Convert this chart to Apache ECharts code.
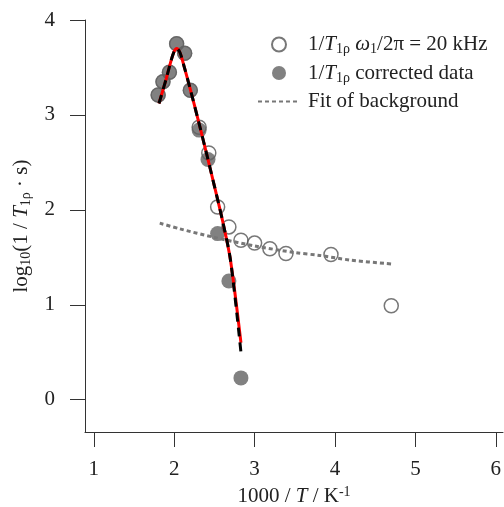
<!DOCTYPE html>
<html><head><meta charset="utf-8">
<script src="https://cdn.jsdelivr.net/npm/echarts@6/dist/echarts.min.js"></script>
<style>html,body{margin:0;padding:0;background:#fff}#c{width:504px;height:507px}</style>
</head><body><div id="c"></div>
<script>
// Open circles: 1/T1rho at omega1/2pi = 20 kHz
const rawX = [1.80, 1.86, 1.94, 2.03, 2.13, 2.20, 2.31, 2.43, 2.54, 2.68, 2.83, 3.00, 3.19, 3.39, 3.95, 4.70];
const rawY = [3.21, 3.35, 3.45, 3.75, 3.65, 3.26, 2.87, 2.60, 2.03, 1.82, 1.68, 1.65, 1.59, 1.54, 1.53, 0.99];
// Filled circles: corrected data
const corrX = [1.80, 1.86, 1.94, 2.03, 2.13, 2.20, 2.31, 2.42, 2.54, 2.68, 2.83];
const corrY = [3.21, 3.35, 3.45, 3.75, 3.65, 3.26, 2.84, 2.53, 1.75, 1.25, 0.23];
// Background fit (dotted)
const bgX = [1.82, 2.07, 2.50, 3.00, 3.50, 3.81, 4.20, 4.70];
const bgY = [1.86, 1.80, 1.71, 1.62, 1.55, 1.52, 1.47, 1.43];
// Red fit curve
const redX = [1.81, 1.90, 1.96, 2.00, 2.03, 2.07, 2.12, 2.20, 2.30, 2.40, 2.50, 2.60, 2.70, 2.83];
const redY = [3.12, 3.38, 3.57, 3.67, 3.70, 3.66, 3.52, 3.27, 2.94, 2.60, 2.25, 1.89, 1.47, 0.60];
// Black dashed fit curve
const blkX = [1.81, 1.90, 1.96, 2.00, 2.03, 2.07, 2.12, 2.20, 2.30, 2.40, 2.50, 2.60, 2.70, 2.83];
const blkY = [3.12, 3.38, 3.57, 3.67, 3.70, 3.66, 3.52, 3.27, 2.94, 2.60, 2.25, 1.89, 1.47, 0.50];
const xTicks = [1, 2, 3, 4, 5, 6];
const yTicks = [0, 1, 2, 3, 4];
const names = ['raw', 'corr', 'bg'];

const zip = (a, b) => a.map((v, i) => [v, b[i]]);
const FONT = 'Liberation Serif';
const rich = {
  n: {fontFamily: FONT, fontSize: 21, color: '#222', lineHeight: 24},
  i: {fontFamily: FONT, fontSize: 21, color: '#222', fontStyle: 'italic', lineHeight: 24},
  sub: {fontFamily: FONT, fontSize: 14, color: '#222', lineHeight: 12, verticalAlign: 'bottom'},
  sup: {fontFamily: FONT, fontSize: 14, color: '#222', lineHeight: 12, verticalAlign: 'top'}
};
const legendText = {
  raw: '{n|1/}{i|T}{sub|1ρ}{n| }{i|ω}{sub|1}{n|/2π = 20 kHz}',
  corr: '{n|1/}{i|T}{sub|1ρ}{n| corrected data}',
  bg: '{n|Fit of background}'
};
const axisCommon = {
  axisLine: {show: true, onZero: false, lineStyle: {color: '#333', width: 1}},
  axisTick: {show: true, length: 15, lineStyle: {color: '#333', width: 1}},
  splitLine: {show: false},
  axisLabel: {fontFamily: FONT, fontSize: 21, color: '#222'}
};
const chart = echarts.init(document.getElementById('c'));
chart.setOption({
  animation: false,
  grid: {left: 85, right: 1, top: 20, bottom: 75, outerBoundsMode: 'none', containLabel: false},
  legend: {
    data: ['raw', 'corr', {name: 'bg', itemStyle: {opacity: 0}}],
    orient: 'vertical', left: 252, top: 29, itemWidth: 42, itemHeight: 14,
    itemGap: 6, selectedMode: false,
    formatter: n => legendText[n], textStyle: {rich: rich, padding: [0, 0, 0, 3]}
  },
  xAxis: Object.assign({}, axisCommon, {
    type: 'value', min: 0.89, max: 6.09,
    axisTick: Object.assign({}, axisCommon.axisTick, {customValues: xTicks}),
    axisLabel: Object.assign({}, axisCommon.axisLabel, {customValues: xTicks, margin: 27}),
    name: '{n|1000 / }{i|T}{n| / K}{sup|-1}', nameLocation: 'middle', nameGap: 41,
    nameTextStyle: {rich: rich}
  }),
  yAxis: Object.assign({}, axisCommon, {
    type: 'value', min: -0.34, max: 4,
    axisTick: Object.assign({}, axisCommon.axisTick, {customValues: yTicks}),
    axisLabel: Object.assign({}, axisCommon.axisLabel, {customValues: yTicks, margin: 30}),
    name: '{n|log}{sub|10}{n|(1 / }{i|T}{sub|1ρ}{n| · s)}', nameLocation: 'middle', nameGap: 44,
    nameRotate: 90, nameTextStyle: {rich: rich}
  }),
  series: [
    {name: 'raw', type: 'scatter', data: zip(rawX, rawY), symbol: 'circle', symbolSize: 14, z: 1,
     itemStyle: {color: 'rgba(255,255,255,0)', borderColor: '#555', borderWidth: 1.5}},
    {name: 'corr', type: 'scatter', data: zip(corrX, corrY), symbol: 'circle', symbolSize: 15, z: 2,
     itemStyle: {color: '#626262'}},
    {name: 'bg', type: 'line', data: zip(bgX, bgY), showSymbol: false, symbol: 'none', z: 3, smooth: 0.3,
     lineStyle: {color: '#777', width: 3, type: [4, 3]}, itemStyle: {color: '#777'}},
    {name: 'red', type: 'line', data: zip(redX, redY), showSymbol: false, symbol: 'none', z: 4, smooth: 0.3,
     lineStyle: {color: '#f00', width: 3}},
    {name: 'blk', type: 'line', data: zip(blkX, blkY), showSymbol: false, symbol: 'none', z: 5, smooth: 0.3,
     lineStyle: {color: '#000', width: 3, type: [9, 6]}}
  ]
});
</script></body></html>
